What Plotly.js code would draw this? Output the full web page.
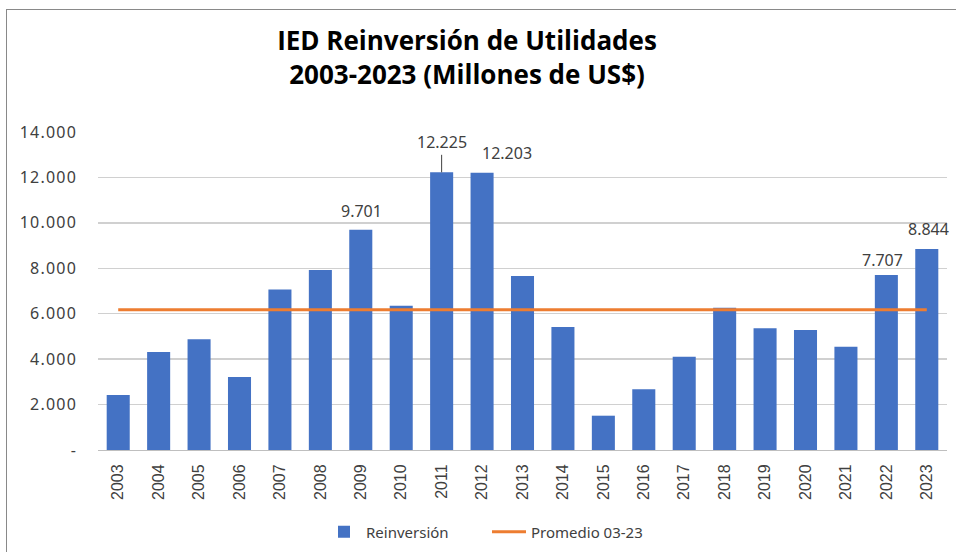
<!DOCTYPE html>
<html>
<head>
<meta charset="utf-8">
<script src="https://cdn.plot.ly/plotly-3.0.1.min.js"></script>
<style>
  html, body { margin: 0; padding: 0; background: #ffffff; }
  #wrap { position: relative; width: 956px; height: 552px; overflow: hidden; }
  #frame { position: absolute; left: 6px; top: 9px; width: 960px; height: 560px;
           border-top: 1px solid #898989; border-left: 1px solid #898989; pointer-events: none; }
  #chart { position: absolute; left: 0; top: 0; width: 956px; height: 552px; }
  #chart .ytick text { letter-spacing: 1.2px; }
</style>
</head>
<body>
<div id="wrap">
  <div id="chart"></div>
  <div id="frame"></div>
</div>
<script>
// ---- data ----
const years = ["2003","2004","2005","2006","2007","2008","2009","2010","2011","2012","2013",
               "2014","2015","2016","2017","2018","2019","2020","2021","2022","2023"];
const reinversion = [2420, 4310, 4880, 3210, 7070, 7930, 9701, 6350, 12225, 12203, 7655,
                     5410, 1510, 2680, 4105, 6260, 5365, 5280, 4545, 7707, 8844];
const promedio = [6174, 6174, 6174, 6174, 6174, 6174, 6174, 6174, 6174, 6174, 6174,
                  6174, 6174, 6174, 6174, 6174, 6174, 6174, 6174, 6174, 6174];
const yTickVals = [0, 2000, 4000, 6000, 8000, 10000, 12000, 14000];
const yTickText = ["-", "2.000", "4.000", "6.000", "8.000", "10.000", "12.000", "14.000"];
const labelledYears = ["2009", "2011", "2012", "2022", "2023"];
const labelTexts = ["9.701", "12.225", "12.203", "7.707", "8.844"];

const labelFont = { family: "Noto Sans, Open Sans, sans-serif", size: 16, color: "#404040" };

// label placement offsets (pixels) per labelled bar
const labelStyle = {
  "2009": { showarrow: false, yshift: 19, xshift: 1 },
  "2011": { showarrow: true, ax: 0, ay: -30 },
  "2012": { showarrow: false, yshift: 20, xshift: 25 },
  "2022": { showarrow: false, yshift: 15, xshift: -4 },
  "2023": { showarrow: false, yshift: 20, xshift: 2 }
};

const annotations = labelledYears.map((yr, i) => {
  const idx = years.indexOf(yr);
  const s = labelStyle[yr];
  const a = {
    x: idx, y: reinversion[idx], xref: "x", yref: "y",
    text: labelTexts[i], font: labelFont,
    xanchor: "center", yanchor: "middle",
    showarrow: s.showarrow
  };
  if (s.showarrow) {
    a.ax = s.ax; a.ay = s.ay; a.axref = "pixel"; a.ayref = "pixel";
    a.arrowhead = 0; a.arrowwidth = 1; a.arrowcolor = "#404040"; a.standoff = 0;
  } else {
    a.yshift = s.yshift; a.xshift = s.xshift;
  }
  return a;
});

const traces = [
  {
    type: "bar", name: "Reinversión", x: years, y: reinversion,
    marker: { color: "#4472C4" }, hoverinfo: "x+y"
  },
  {
    type: "scatter", mode: "lines", name: "Promedio 03-23", x: years, y: promedio,
    line: { color: "#ED7D31", width: 3 }, hoverinfo: "y"
  }
];

const layout = {
  width: 956, height: 552,
  paper_bgcolor: "rgba(0,0,0,0)", plot_bgcolor: "#ffffff",
  margin: { l: 98, r: 9, t: 132, b: 102 },
  title: {
    text: "<b>IED Reinversión de Utilidades<br>2003-2023 (Millones de US$)</b>",
    font: { family: "Open Sans, sans-serif", size: 26, color: "#000000" },
    x: 467 / 956, xanchor: "center", xref: "container",
    y: 1 - 50 / 552, yanchor: "middle", yref: "container"
  },
  bargap: 0.43,
  showlegend: true,
  legend: {
    orientation: "h", xref: "container", yref: "container",
    x: 487 / 956, xanchor: "center", y: 1 - 532 / 552, yanchor: "middle",
    font: { family: "Noto Sans, sans-serif", size: 15, color: "#404040" },
    itemwidth: 34, entrywidth: 116, bgcolor: "rgba(0,0,0,0)"
  },
  xaxis: {
    type: "category",
    range: [-0.5, 20.5], autorange: false,
    tickangle: -90,
    tickfont: { family: "Liberation Sans, Arial, sans-serif", size: 16, color: "#404040" },
    showline: true, linecolor: "#bfbfbf", linewidth: 1,
    showgrid: false, ticks: "", ticklabelstandoff: 7,
    fixedrange: true
  },
  yaxis: {
    range: [0, 14000], autorange: false,
    tickvals: yTickVals, ticktext: yTickText,
    tickfont: { family: "Noto Sans, sans-serif", size: 16, color: "#404040" },
    showgrid: true, gridcolor: "#d0d0d0", gridwidth: 1.3,
    zeroline: false, showline: false, ticks: "", ticklabelstandoff: 20,
    fixedrange: true
  },
  annotations: annotations
};

Plotly.newPlot("chart", traces, layout, { displayModeBar: false, staticPlot: true });
</script>
</body>
</html>
